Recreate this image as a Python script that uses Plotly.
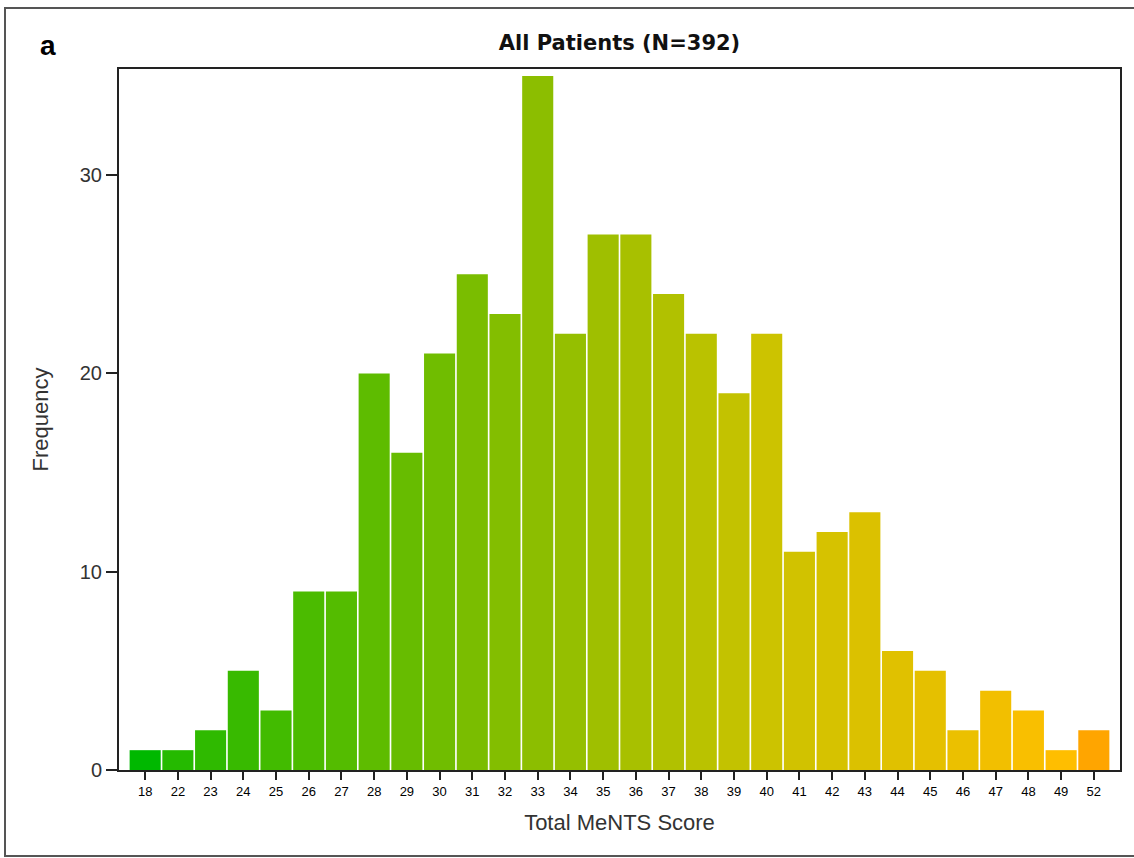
import plotly.graph_objects as go

scores = ["18", "22", "23", "24", "25", "26", "27", "28", "29", "30", "31", "32", "33", "34", "35",
          "36", "37", "38", "39", "40", "41", "42", "43", "44", "45", "46", "47", "48", "49", "52"]
frequency = [1, 1, 2, 5, 3, 9, 9, 20, 16, 21, 25, 23, 35, 22, 27,
             27, 24, 22, 19, 22, 11, 12, 13, 6, 5, 2, 4, 3, 1, 2]
score_values = [int(s) for s in scores]

title_text = "All Patients (N=392)"
x_title = "Total MeNTS Score"
y_title = "Frequency"
panel_label = "a"

colorscale = [
    [0.0, "rgb(0,184,0)"],
    [0.44, "rgb(140,190,0)"],
    [0.65, "rgb(205,195,0)"],
    [0.80, "rgb(230,192,0)"],
    [0.91, "rgb(255,190,0)"],
    [1.0, "rgb(255,165,0)"],
]

FONT = "Arial, Liberation Sans, sans-serif"
TITLE_FONT = "DejaVu Sans, Verdana, sans-serif"

fig = go.Figure(go.Bar(
    x=scores,
    y=frequency,
    marker=dict(color=score_values, colorscale=colorscale, cmin=18, cmax=52,
                line=dict(width=0)),
    showlegend=False,
    hoverinfo="skip",
))

W, H = 1134, 858
L, R, T, B = 119, 14, 69, 88
pw = W - L - R
ph = H - T - B

fig.update_layout(
    width=W, height=H,
    margin=dict(l=L, r=R, t=T, b=B, pad=0),
    paper_bgcolor="white",
    plot_bgcolor="white",
    bargap=0.05,
    font=dict(family=FONT, color="#222"),
    title=dict(text="<b>" + title_text + "</b>", x=(L + pw / 2) / W, xanchor="center",
               y=1 - 43 / H, yanchor="middle",
               font=dict(family=TITLE_FONT, size=21, color="#111")),
    xaxis=dict(
        type="category",
        range=[-0.8, 29.8],
        showline=True, linecolor="#222", linewidth=2, mirror=True,
        ticks="outside", ticklen=8, tickcolor="#222", tickwidth=1.5,
        tickfont=dict(size=13, color="#000"),
        showgrid=False, zeroline=False,
        title=dict(text=x_title, font=dict(size=22, color="#333"), standoff=17),
    ),
    yaxis=dict(
        range=[0, 35.35],
        tickvals=[0, 10, 20, 30],
        showline=True, linecolor="#222", linewidth=2, mirror=True,
        ticks="outside", ticklen=11, tickcolor="#222", tickwidth=1.5,
        tickfont=dict(size=20, color="#333"),
        showgrid=False, zeroline=False,
        title=dict(text=y_title, font=dict(size=22, color="#333"), standoff=25),
    ),
    annotations=[dict(
        text="<b>" + panel_label + "</b>", xref="paper", yref="paper",
        x=(48 - L) / pw, y=(H - B - 46) / ph, xanchor="center", yanchor="middle",
        showarrow=False, font=dict(size=28, color="#000"),
    )],
    shapes=[dict(
        type="rect", xref="paper", yref="paper",
        x0=(5 - L) / pw, x1=(1145 - L) / pw,
        y0=(H - B - 856) / ph, y1=(H - B - 8) / ph,
        line=dict(color="#555", width=2), fillcolor="rgba(0,0,0,0)", layer="below",
    )],
)

fig.write_html(
    "out.html",
    config={"displayModeBar": False},
    post_script="document.body.style.margin='0';document.body.style.overflow='hidden';",
)
